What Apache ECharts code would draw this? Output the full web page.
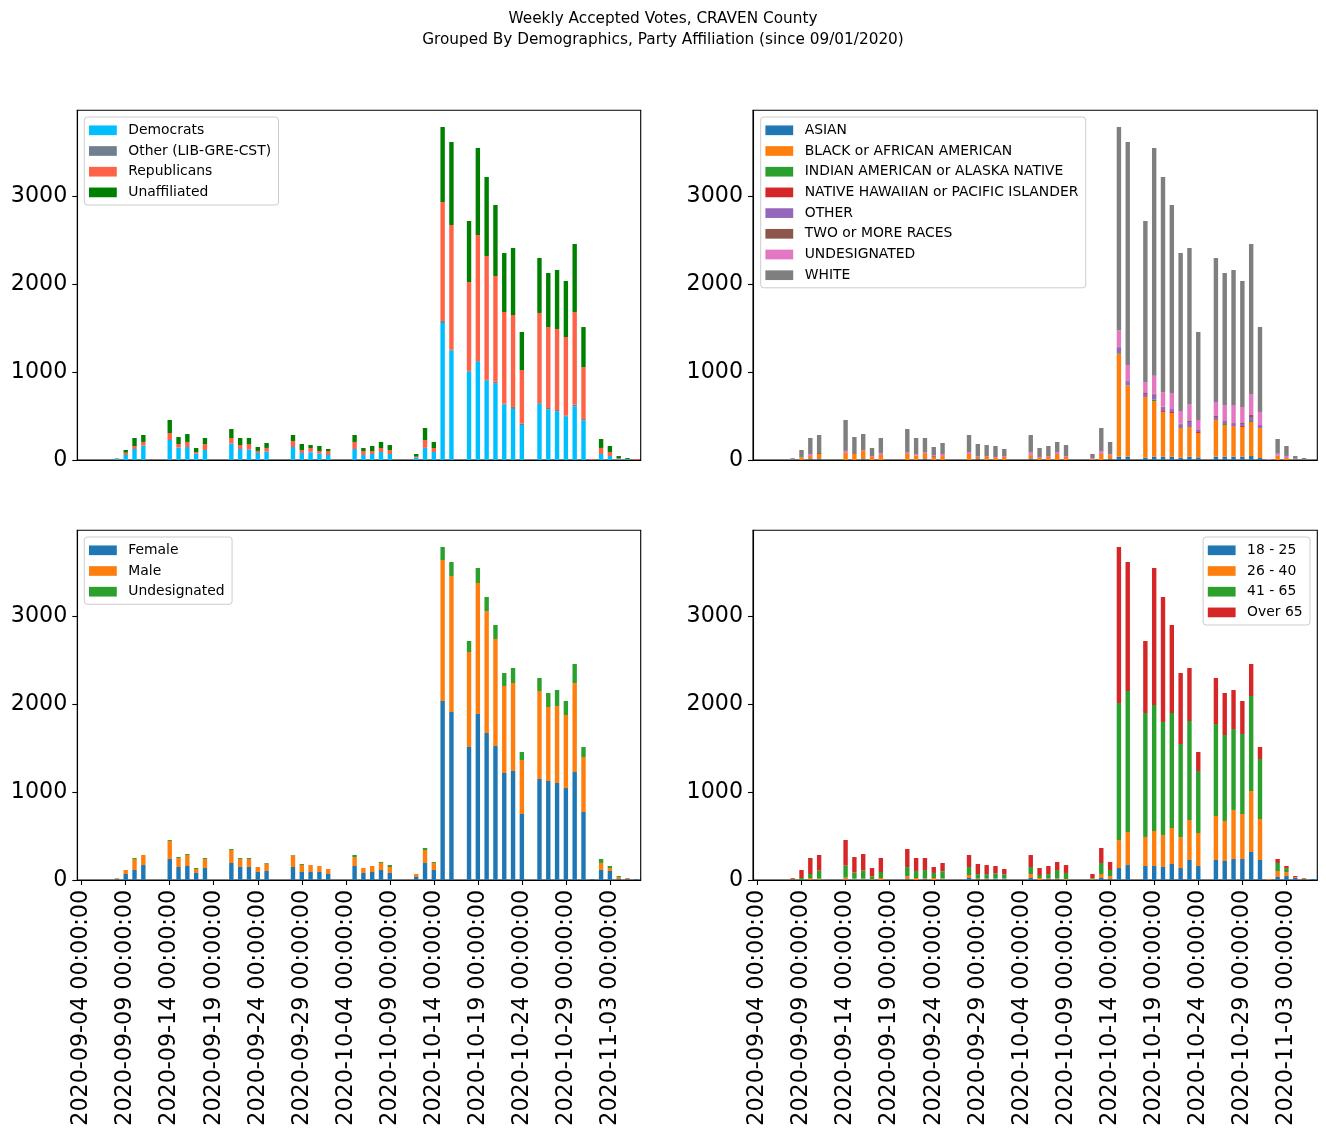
<!DOCTYPE html>
<html>
<head>
<meta charset="utf-8">
<script src="https://cdn.jsdelivr.net/npm/echarts@6/dist/echarts.min.js"></script>
<style>
html,body{margin:0;padding:0;background:#fff;}
#chart{width:1326px;height:1137px;}
</style>
</head>
<body>
<div id="chart"></div>
<script>
// Categories (one per day)
const dates = [
"2020-09-04 00:00:00","2020-09-05 00:00:00","2020-09-06 00:00:00","2020-09-07 00:00:00",
"2020-09-08 00:00:00","2020-09-09 00:00:00","2020-09-10 00:00:00","2020-09-11 00:00:00",
"2020-09-12 00:00:00","2020-09-13 00:00:00","2020-09-14 00:00:00","2020-09-15 00:00:00",
"2020-09-16 00:00:00","2020-09-17 00:00:00","2020-09-18 00:00:00","2020-09-19 00:00:00",
"2020-09-20 00:00:00","2020-09-21 00:00:00","2020-09-22 00:00:00","2020-09-23 00:00:00",
"2020-09-24 00:00:00","2020-09-25 00:00:00","2020-09-26 00:00:00","2020-09-27 00:00:00",
"2020-09-28 00:00:00","2020-09-29 00:00:00","2020-09-30 00:00:00","2020-10-01 00:00:00",
"2020-10-02 00:00:00","2020-10-03 00:00:00","2020-10-04 00:00:00","2020-10-05 00:00:00",
"2020-10-06 00:00:00","2020-10-07 00:00:00","2020-10-08 00:00:00","2020-10-09 00:00:00",
"2020-10-10 00:00:00","2020-10-11 00:00:00","2020-10-12 00:00:00","2020-10-13 00:00:00",
"2020-10-14 00:00:00","2020-10-15 00:00:00","2020-10-16 00:00:00","2020-10-17 00:00:00",
"2020-10-18 00:00:00","2020-10-19 00:00:00","2020-10-20 00:00:00","2020-10-21 00:00:00",
"2020-10-22 00:00:00","2020-10-23 00:00:00","2020-10-24 00:00:00","2020-10-25 00:00:00",
"2020-10-26 00:00:00","2020-10-27 00:00:00","2020-10-28 00:00:00","2020-10-29 00:00:00",
"2020-10-30 00:00:00","2020-10-31 00:00:00","2020-11-01 00:00:00","2020-11-02 00:00:00",
"2020-11-03 00:00:00","2020-11-04 00:00:00","2020-11-05 00:00:00","2020-11-06 00:00:00"
];
const yTicks = [0, 1000, 2000, 3000];
const titleLines = ["Weekly Accepted Votes, CRAVEN County", "Grouped By Demographics, Party Affiliation (since 09/01/2020)"];

// Party affiliation
const democrats = [0,0,0,0, 14,57,125,163, 0,0, 227,140,148,72,114, 0,0, 186,125,121,80,95, 0,0, 148,80,88,72,57, 0,0, 125,57,68,91,68, 0,0, 23,136,91,1557,1242, 0, 1004,1117,902,867,629,580,398, 0, 640,572,549,492,606,447,0,68,45,11,8,0];
const otherParty = [0,0,0,0, 0,0,0,0, 0,0, 0,2,0,0,0, 0,0, 2,0,0,0,0, 0,0, 0,0,5,0,0, 0,0, 0,0,0,0,0, 0,0, 4,2,0,23,15, 0, 8,8,8,23,11,23,15, 0, 8,19,19,15,23,19,0,0,0,0,4,0];
const republicans = [0,0,0,0, 3,26,34,42, 0,0, 80,40,57,19,68, 0,0, 62,45,61,23,42, 0,0, 68,34,43,30,45, 0,0, 80,45,34,45,45, 0,0, 11,89,45,1352,1413, 0, 1011,1432,1408,1201,1042,1045,610, 0, 1023,920,921,891,1053,590,11,69,46,11,0,11];
const unaffiliated = [0,0,0,0, 3,31,91,79, 0,0, 148,79,90,45,68, 0,0, 102,80,68,45,56, 0,0, 68,68,34,57,23, 0,0, 79,34,57,69,57, 0,0, 30,137,69,852,944, 0, 693,989,898,807,670,761,432, 0, 625,614,670,636,773,455,0,102,68,23,11,0];

// Race
const asian = [0,0,0,0, 0,0,11,11, 0,0, 0,0,11,0,0, 0,0, 0,0,11,0,0, 0,0, 0,11,0,0,0, 0,0, 11,0,0,0,0, 0,0, 0,0,11,38,38, 0, 26,38,38,38,26,38,30, 0, 38,38,38,38,45,23,0,0,0,0,0,0];
const black = [0,0,0,0, 0,30,34,57, 0,0, 80,68,91,34,57, 0,0, 68,53,68,34,45, 0,0, 68,23,34,23,34, 0,0, 45,23,34,68,34, 0,0, 11,68,45,1167,807, 0, 690,632,507,496,338,337,277, 0, 417,360,348,337,387,341,0,45,23,0,0,0];
const indianAm = [0,0,0,0, 0,0,0,0, 0,0, 0,0,0,0,0, 0,0, 0,0,0,0,0, 0,0, 0,0,0,0,0, 0,0, 0,0,0,0,0, 0,0, 0,0,0,8,4, 0, 0,15,0,0,0,0,0, 0, 0,11,0,0,11,0,0,0,0,0,0,0];
const hawaiian = [0,0,0,0, 0,0,0,0, 0,0, 0,0,0,0,0, 0,0, 0,0,0,0,0, 0,0, 0,0,0,0,0, 0,0, 0,0,0,0,0, 0,0, 0,0,0,0,0, 0, 0,0,11,11,0,0,11, 0, 0,0,0,11,0,0,0,4,0,0,0,0];
const otherRace = [0,0,0,0, 8,0,0,0, 0,0, 0,0,0,0,0, 0,0, 0,0,0,11,0, 0,0, 0,0,0,0,0, 0,0, 8,0,0,0,0, 0,0, 0,0,0,64,45, 0, 34,57,38,34,38,57,23, 0, 34,34,34,23,45,34,0,0,0,8,0,0];
const twoRaces = [0,0,0,0, 0,0,0,11, 0,0, 0,0,0,0,0, 0,0, 0,0,0,0,0, 0,0, 0,0,0,0,0, 0,0, 0,0,0,0,0, 0,0, 0,0,0,8,4, 0, 11,11,11,0,11,11,0, 0, 11,0,0,11,23,0,0,0,0,7,0,0];
const undesRace = [0,0,0,0, 0,0,23,0, 0,0, 23,0,11,11,23, 0,0, 15,15,11,12,23, 0,0, 23,11,11,11,11, 0,0, 26,11,11,23,11, 0,0, 11,34,11,186,182, 0, 125,205,167,182,144,193,114, 0, 159,182,205,182,239,148,11,23,23,0,0,0];
const white = [0,0,0,0, 12,84,182,205, 0,0, 352,193,182,91,170, 0,0, 269,182,160,91,125, 0,0, 193,137,125,125,80, 0,0, 194,102,114,114,125, 0,0, 46,262,138,2313,2534, 0, 1830,2588,2444,2137,1795,1773,1000, 0, 1637,1500,1534,1432,1705,965,0,167,113,30,23,11];

// Gender
const female = [0,0,0,0, 11,68,114,170, 0,0, 239,148,159,80,136, 0,0, 193,148,148,91,102, 0,0, 148,91,91,91,68, 0,0, 159,80,91,114,80, 0,0, 34,193,114,2034,1909, 0, 1511,1886,1670,1523,1216,1239,750, 0, 1148,1125,1102,1045,1227,773,11,114,102,11,11,11];
const male = [0,0,0,0, 9,46,125,114, 0,0, 205,102,125,45,103, 0,0, 148,91,91,57,83, 0,0, 129,80,79,68,57, 0,0, 102,56,68,80,68, 0,0, 34,148,80,1602,1546, 0, 1080,1489,1386,1216,989,1000,614, 0, 1000,841,875,830,1011,625,0,80,34,23,12,0];
const undesGender = [0,0,0,0, 0,0,11,0, 0,0, 11,11,11,11,11, 0,0, 11,11,11,0,8, 0,0, 7,11,0,0,0, 0,0, 23,0,0,11,22, 0,0, 0,23,11,148,159, 0, 125,171,160,159,147,170,91, 0, 148,159,182,159,217,113,0,45,23,11,0,0];

// Age
const age18_25 = [0,0,0,0, 0,0,4,4, 0,0, 4,8,8,0,0, 0,0, 11,0,11,0,8, 0,0, 23,11,11,11,11, 0,0, 23,0,11,11,4, 0,0, 4,23,11,136,170, 0, 159,159,148,182,136,227,159, 0, 227,216,239,239,318,227,0,34,45,23,11,11];
const age26_40 = [0,0,0,0, 0,0,19,11, 0,0, 23,8,8,8,23, 0,0, 34,23,11,23,11, 0,0, 34,11,11,8,8, 0,0, 45,23,11,11,8, 0,0, 11,45,34,318,375, 0, 330,398,364,409,352,455,375, 0, 500,455,557,511,693,466,11,68,45,11,12,0];
const age41_65 = [0,0,0,0, 8,23,45,91, 0,0, 136,68,91,34,68, 0,0, 102,80,91,57,80, 0,0, 91,45,45,57,45, 0,0, 80,34,45,91,68, 0,0, 8,125,68,1557,1602, 0, 1409,1432,1284,1307,1057,1125,705, 0, 1045,977,920,909,1080,682,0,91,45,0,0,0];
const ageOver65 = [0,0,0,0, 12,91,182,178, 0,0, 292,177,188,94,159, 0,0, 205,147,137,68,94, 0,0, 136,115,103,83,61, 0,0, 136,79,92,92,90, 0,0, 45,171,92,1773,1467, 0, 818,1557,1420,1000,807,602,216, 0, 524,477,443,375,364,136,0,46,24,11,0,0];

const FONT = 'DejaVu Sans';
const panels = [
  {grid:{left:77.3, top:110.3, width:563.4, height:349.7}, showX:false,
   legend:{left:84.3, top:117},
   series:[["Democrats",democrats,"#00bfff"],["Other (LIB-GRE-CST)",otherParty,"#708090"],["Republicans",republicans,"#ff6347"],["Unaffiliated",unaffiliated,"#008000"]]},
  {grid:{left:753, top:110.3, width:564.3, height:349.7}, showX:false,
   legend:{left:760.7, top:117},
   series:[["ASIAN",asian,"#1f77b4"],["BLACK or AFRICAN AMERICAN",black,"#ff7f0e"],["INDIAN AMERICAN or ALASKA NATIVE",indianAm,"#2ca02c"],["NATIVE HAWAIIAN or PACIFIC ISLANDER",hawaiian,"#d62728"],["OTHER",otherRace,"#9467bd"],["TWO or MORE RACES",twoRaces,"#8c564b"],["UNDESIGNATED",undesRace,"#e377c2"],["WHITE",white,"#7f7f7f"]]},
  {grid:{left:77.3, top:530.3, width:563.4, height:349.7}, showX:true,
   legend:{left:84.3, top:537},
   series:[["Female",female,"#1f77b4"],["Male",male,"#ff7f0e"],["Undesignated",undesGender,"#2ca02c"]]},
  {grid:{left:753, top:530.3, width:564.3, height:349.7}, showX:true,
   legend:{right:16, top:537},
   series:[["18 - 25",age18_25,"#1f77b4"],["26 - 40",age26_40,"#ff7f0e"],["41 - 65",age41_65,"#2ca02c"],["Over 65",ageOver65,"#d62728"]]}
];

const grids=[], xAxes=[], yAxes=[], legends=[], series=[];
panels.forEach((p, k) => {
  grids.push(Object.assign({show:true, borderColor:'#000', borderWidth:1.1, backgroundColor:'transparent'}, p.grid));
  xAxes.push({
    type:'category', gridIndex:k, data:dates, boundaryGap:true,
    axisLine:{show:true, lineStyle:{color:'#000', width:1.1}},
    axisTick:{show:p.showX, interval:4, alignWithLabel:true, length:5, lineStyle:{color:'#000', width:1.1}},
    axisLabel:{show:p.showX, interval:4, rotate:90, margin:10, color:'#000', fontFamily:FONT, fontSize:22.2},
    splitLine:{show:false}
  });
  yAxes.push({
    type:'value', gridIndex:k, min:0, max:3974, interval:1000,
    axisLine:{show:true, lineStyle:{color:'#000', width:1.1}},
    axisTick:{show:true, length:5, customValues:yTicks, lineStyle:{color:'#000', width:1.1}},
    axisLabel:{customValues:yTicks, margin:10, color:'#000', fontFamily:FONT, fontSize:22.2, formatter:(v)=>String(v)},
    splitLine:{show:false}
  });
  legends.push(Object.assign({
    orient:'vertical', data:p.series.map(s=>s[0]), icon:'rect',
    itemWidth:27.8, itemHeight:9.7, itemGap:6.7,
    padding:[6.3, 7.4, 5.6, 4.7],
    backgroundColor:'rgba(255,255,255,0.8)', borderColor:'#cccccc', borderWidth:1, borderRadius:3,
    selectedMode:false,
    textStyle:{color:'#000', fontFamily:FONT, fontSize:13.9, lineHeight:14, padding:[0,0,0,6.5]}
  }, p.legend));
  p.series.forEach(s => {
    series.push({
      type:'bar', name:s[0], data:s[1], stack:'st'+k, xAxisIndex:k, yAxisIndex:k,
      barWidth:'50%', itemStyle:{color:s[2]}, emphasis:{disabled:true}, silent:true
    });
  });
});

const titleStyle = {color:'#000', fontFamily:FONT, fontSize:15.3, fontWeight:'normal'};
const chart = echarts.init(document.getElementById('chart'), null, {renderer:'canvas'});
chart.setOption({
  animation:false,
  backgroundColor:'#fff',
  title:[
    {text:titleLines[0], left:'center', top:11.5, padding:0, textStyle:titleStyle},
    {text:titleLines[1], left:'center', top:33, padding:0, textStyle:titleStyle}
  ],
  grid:grids, xAxis:xAxes, yAxis:yAxes, legend:legends, series:series
});
</script>
</body>
</html>
